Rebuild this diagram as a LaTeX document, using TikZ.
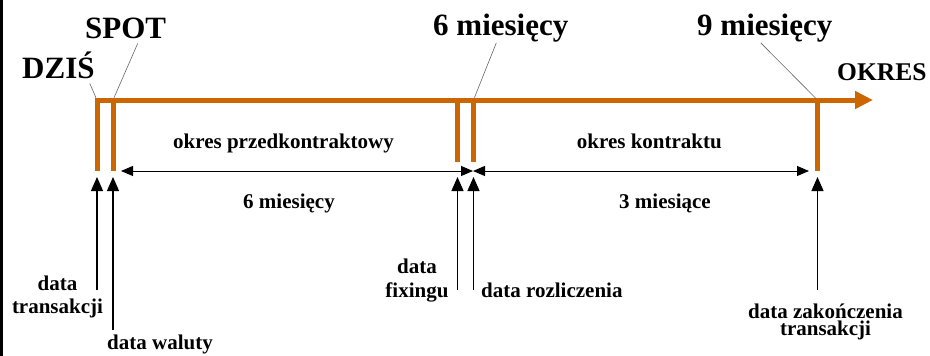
\documentclass[tikz,border=0pt]{standalone}
\usepackage{fontspec}
\setmainfont{Liberation Serif}
\usetikzlibrary{arrows.meta}
\definecolor{axisorange}{HTML}{CC6600}
\begin{document}
\begin{tikzpicture}[x=1pt,y=-1pt,
  big/.style={font=\fontsize{31}{31}\selectfont\bfseries, inner sep=0pt},
  axislabel/.style={font=\fontsize{25.5}{26}\selectfont\bfseries, inner sep=0pt},
  lbl/.style={font=\fontsize{21}{21}\selectfont\bfseries, inner sep=0pt},
  timeline/.style={draw=axisorange, line width=5pt},
  leader/.style={draw=black!60, line width=0.6pt},
  span/.style={draw=black, line width=0.9pt,
    {Triangle[length=12pt,width=10pt]}-{Triangle[length=12pt,width=10pt]}},
  pointer/.style={draw=black, line width=1.2pt, -{Triangle[length=14pt,width=12pt]}},
]
\useasboundingbox (0,0) rectangle (930,356);
% frame edge on the left
\draw[line width=2.5pt] (1.5,0) -- (1.5,356);

% tick positions on the time axis
\coordinate (t0) at (97,100);
\coordinate (t1) at (113,100);
\coordinate (t2) at (457.5,100);
\coordinate (t3) at (473.5,100);
\coordinate (t4) at (817.5,100);
\coordinate (b0) at (97,170.5);
\coordinate (b1) at (113,170.5);
\coordinate (b2) at (457.5,162);
\coordinate (b3) at (473.5,162);
\coordinate (b4) at (817.5,170.5);
\coordinate (axisStart) at (94.5,100);
\coordinate (axisEnd) at (873,100);

% time axis and ticks
\draw[timeline, -{Triangle[length=18pt,width=17pt]}] (axisStart) -- (axisEnd);
\foreach \a/\b in {t0/b0, t1/b1, t2/b2, t3/b3, t4/b4}
  \draw[timeline] (\a) -- (\b);

% headings above the axis
\node[big, anchor=base west] (dzis) at (22,78) {DZIŚ};
\node[big, anchor=base west] (spot) at (85,38) {SPOT};
\node[big, anchor=base west] (m6) at (433,35) {6 miesięcy};
\node[big, anchor=base west] (m9) at (697,35) {9 miesięcy};
\node[axislabel, anchor=base west] (okres) at (837,80) {OKRES};

\draw[leader, shorten >=2.5pt] ([shift={(-5,5)}]dzis.south east) -- (t0);
\draw[leader, shorten >=2.5pt] ([shift={(12,5)}]spot.south) -- (t1);
\draw[leader, shorten >=2.5pt] ([shift={(-4.5,1)}]m6.south) -- (t3);
\draw[leader, shorten >=2.5pt] ([shift={(-4,1)}]m9.south) -- (t4);

% period spans
\coordinate (s0) at (121,171);
\coordinate (s1) at (473,171);
\coordinate (s2) at (809,171);
\draw[span] (s0) -- (s1);
\draw[span] (s1) -- (s2);
\node[lbl, anchor=base west] (pre) at (173,148) {okres przedkontraktowy};
\node[lbl, anchor=base east] (con) at (722,148) {okres kontraktu};
\node[lbl, anchor=base west] (pre6) at (243,208) {6 miesięcy};
\node[lbl, anchor=base west] (con3) at (619,208) {3 miesiące};

% date labels
\node[lbl, anchor=base] (trA) at (57.5,290) {data};
\node[lbl, anchor=base] (trB) at (57.5,313) {transakcji};
\node[lbl, anchor=base west] (wal) at (107,349) {data waluty};
\node[lbl, anchor=base] (fixA) at (417,273) {data};
\node[lbl, anchor=base] (fixB) at (417,297) {fixingu};
\node[lbl, anchor=base west] (roz) at (481,297) {data rozliczenia};
\node[lbl, font=\fontsize{21}{17}\selectfont\bfseries, align=center, anchor=north]
  (endd) at (825.5,303.5) {data zakończenia\\transakcji};

% pointers from the dates up to the ticks
\coordinate (p0) at (97,290);   \coordinate (q0) at (97,177);
\coordinate (p1) at (113,330);  \coordinate (q1) at (113,177);
\coordinate (p2) at (457.5,290); \coordinate (q2) at (457.5,177);
\coordinate (p3) at (473.5,290); \coordinate (q3) at (473.5,177);
\coordinate (p4) at (817.5,290); \coordinate (q4) at (817.5,177);
\foreach \a/\b in {p0/q0, p1/q1, p2/q2, p3/q3, p4/q4}
  \draw[pointer] (\a) -- (\b);
\end{tikzpicture}
\end{document}
